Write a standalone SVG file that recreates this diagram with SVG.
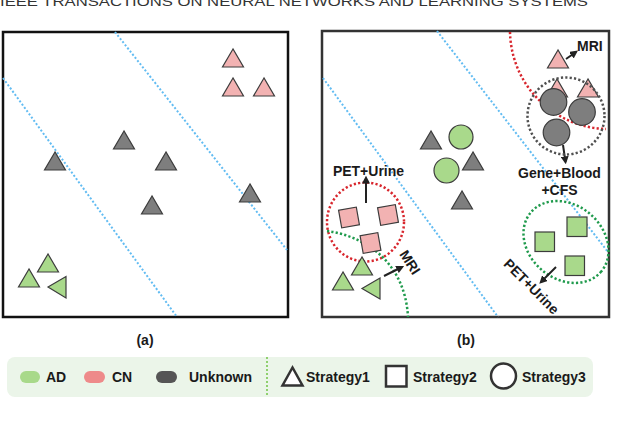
<svg xmlns="http://www.w3.org/2000/svg" width="640" height="421" viewBox="0 0 640 421">
<style>
text{font-family:"Liberation Sans",Arial,sans-serif;fill:#1a1a1a}
.lbl{font-size:14px;font-weight:bold}
.box{fill:none;stroke-width:2.5}
.blue{fill:none;stroke:#62bcf2;stroke-width:2;stroke-dasharray:2 2}
.red{fill:none;stroke:#d8262d;stroke-width:2.5;stroke-dasharray:2.2 2.2}
.grn{fill:none;stroke:#1f9a4c;stroke-width:2.5;stroke-dasharray:2.2 2.2}
.gry{fill:none;stroke:#505050;stroke-width:2.5;stroke-dasharray:2.2 2.2}
.ad{fill:#a9d98b;stroke:#3c3c3c;stroke-width:1.2}
.cn{fill:#f2b2b2;stroke:#3c3c3c;stroke-width:1.2}
.uk{fill:#7e7e7e;stroke:#3c3c3c;stroke-width:1.2}
.arr{stroke:#222;stroke-width:2;fill:none;marker-end:url(#ah)}
</style>
<defs>
<marker id="ah" viewBox="0 0 10 10" refX="7" refY="5" markerWidth="4" markerHeight="4" orient="auto"><path d="M0,0 L10,5 L0,10 z" fill="#222"/></marker>
<polygon id="tri" points="0,0 -10.5,18 10.5,18"/>
</defs>
<rect width="640" height="421" fill="#fff"/>
<text x="0" y="6" font-size="13" textLength="588" lengthAdjust="spacingAndGlyphs" style="fill:#333">IEEE TRANSACTIONS ON NEURAL NETWORKS AND LEARNING SYSTEMS</text>

<!-- Panel (a) -->
<g id="panel-a">
<rect class="box" x="3" y="32" width="285" height="285" stroke="#111"/>
<g id="a-boundaries">
<line class="blue" x1="115" y1="32" x2="287" y2="250"/>
<line class="blue" x1="3" y1="78" x2="177" y2="317"/>
</g>
<g id="a-cn">
<use href="#tri" class="cn" x="233" y="49"/>
<use href="#tri" class="cn" x="233" y="78"/>
<use href="#tri" class="cn" x="264" y="78"/>
</g>
<g id="a-unknown">
<use href="#tri" class="uk" x="124" y="131"/>
<use href="#tri" class="uk" x="55" y="152"/>
<use href="#tri" class="uk" x="166" y="152"/>
<use href="#tri" class="uk" x="152" y="196"/>
<use href="#tri" class="uk" x="250" y="184"/>
</g>
<g id="a-ad">
<use href="#tri" class="ad" x="48" y="254"/>
<use href="#tri" class="ad" x="29" y="269"/>
<polygon class="ad" points="48,287 66,276.5 66,298"/>
</g>
<text class="lbl" x="145" y="345" text-anchor="middle">(a)</text>
</g>

<!-- Panel (b) -->
<g id="panel-b">
<rect class="box" x="322" y="31" width="287" height="286" stroke="#333"/>
<g id="connectors">
<line class="blue" x1="437" y1="31" x2="608" y2="252"/>
<line class="blue" x1="323" y1="78" x2="498" y2="317"/>
<path class="red" d="M510,32 A99,99 0 0 0 606,129"/>
<ellipse class="red" cx="365.5" cy="222" rx="38.5" ry="39.5"/>
<path class="grn" d="M327,231 C365,236 405,262 408,317"/>
<ellipse class="grn" cx="566" cy="242" rx="46" ry="37" transform="rotate(40 566 242)"/>
<line class="arr" x1="366" y1="203" x2="366" y2="178"/>
<line class="arr" x1="384" y1="276" x2="402" y2="267"/>
<line class="arr" x1="566" y1="59" x2="576" y2="52"/>
<line class="arr" x1="563" y1="145" x2="565.5" y2="162"/>
<line class="arr" x1="556" y1="267" x2="541" y2="282"/>
</g>
<g id="b-middle">
<use href="#tri" class="uk" x="431" y="131"/>
<circle class="ad" cx="461" cy="137" r="12"/>
<circle class="ad" cx="446.5" cy="170.5" r="12.5"/>
<use href="#tri" class="uk" x="473" y="152"/>
<use href="#tri" class="uk" x="462" y="191"/>
</g>
<g id="b-left">
<rect class="cn" x="340" y="208.5" width="18" height="18" transform="rotate(-10 349 217.5)"/>
<rect class="cn" x="379" y="206" width="18" height="18" transform="rotate(-10 388 215)"/>
<rect class="cn" x="361.5" y="234" width="18" height="18" transform="rotate(-10 370.5 243)"/>
<use href="#tri" class="ad" x="362" y="257"/>
<use href="#tri" class="ad" x="343" y="272"/>
<polygon class="ad" points="362,288.5 380,278 380,299"/>
</g>
<g id="b-topright">
<use href="#tri" class="cn" x="558" y="50"/>
<use href="#tri" class="cn" x="557" y="79"/>
<use href="#tri" class="cn" x="588" y="79"/>
<circle class="uk" cx="553.5" cy="102" r="13.3"/>
<circle class="uk" cx="582" cy="112" r="13.3"/>
<circle class="uk" cx="556.5" cy="132.5" r="13.3"/>
<circle class="gry" cx="566" cy="116" r="38.5"/>
</g>
<g id="b-right">
<rect class="ad" x="567" y="217" width="20" height="19.5"/>
<rect class="ad" x="535" y="232" width="19.5" height="19.5"/>
<rect class="ad" x="565" y="256" width="19.5" height="19.5"/>
</g>
<g id="b-labels">
<text class="lbl" x="368.5" y="176" text-anchor="middle">PET+Urine</text>
<text class="lbl" transform="translate(406 265) rotate(57)" text-anchor="middle">MRI</text>
<text class="lbl" x="577" y="51">MRI</text>
<text class="lbl" x="559.5" y="178" text-anchor="middle">Gene+Blood</text>
<text class="lbl" x="559.5" y="195" text-anchor="middle">+CFS</text>
<text class="lbl" transform="translate(528 290) rotate(45)" text-anchor="middle">PET+Urine</text>
</g>
<text class="lbl" x="466" y="345" text-anchor="middle">(b)</text>
</g>

<!-- Legend -->
<g id="legend">
<rect x="7" y="357" width="586" height="40" rx="8" fill="#ebf5e9"/>
<line x1="267" y1="357" x2="267" y2="397" stroke="#8fd06e" stroke-width="2" stroke-dasharray="2 2"/>
<g id="leg-ad"><rect x="20" y="371" width="20" height="12" rx="6" fill="#a8d98a"/><text class="lbl" x="46" y="382">AD</text></g>
<g id="leg-cn"><rect x="84" y="371" width="21" height="12" rx="6" fill="#ee8a8a"/><text class="lbl" x="112" y="382">CN</text></g>
<g id="leg-uk"><rect x="156" y="371" width="21" height="12" rx="6" fill="#555"/><text class="lbl" x="189" y="382">Unknown</text></g>
<g id="leg-s1"><polygon points="292.5,367.5 282.5,385.5 302.5,385.5" fill="#fff" stroke="#333" stroke-width="2.5" stroke-linejoin="miter"/><text class="lbl" x="306" y="382">Strategy1</text></g>
<g id="leg-s2"><rect x="386" y="366" width="20.5" height="20.5" fill="#fff" stroke="#333" stroke-width="2.5"/><text class="lbl" x="413" y="382">Strategy2</text></g>
<g id="leg-s3"><ellipse cx="503.5" cy="376" rx="12.5" ry="12.5" fill="#fff" stroke="#333" stroke-width="2.5"/><text class="lbl" x="522" y="382">Strategy3</text></g>
</g>
</svg>
